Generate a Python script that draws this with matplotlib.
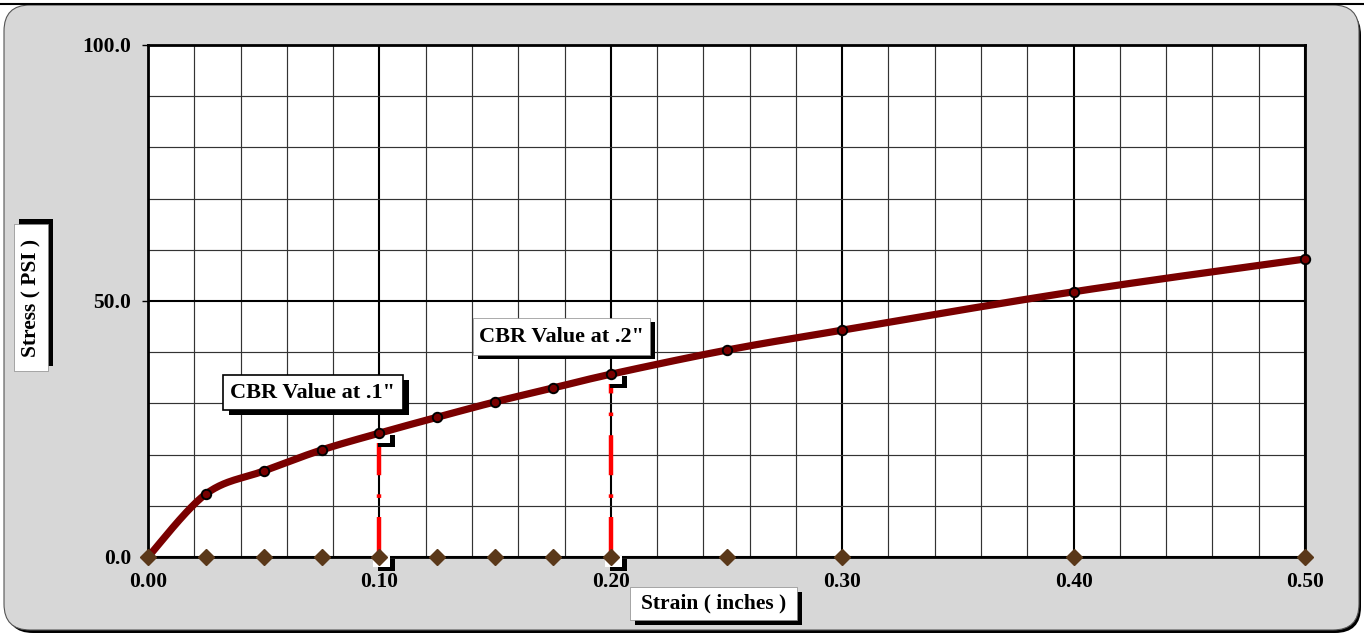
import numpy as np
import matplotlib
matplotlib.use("Agg")
import matplotlib.pyplot as plt
from matplotlib.patches import Rectangle, FancyBboxPatch
from matplotlib.transforms import IdentityTransform
from matplotlib.ticker import MultipleLocator

# ---- data -------------------------------------------------------------
strain = [0.0, 0.025, 0.05, 0.075, 0.10, 0.125, 0.15, 0.175, 0.20, 0.25, 0.30, 0.40, 0.50]
stress = [0.0, 12.3, 16.8, 20.9, 24.2, 27.3, 30.3, 33.0, 35.7, 40.4, 44.3, 51.8, 58.2]

cbr_strain = [0.10, 0.20]
cbr_labels = ['CBR Value at .1"', 'CBR Value at .2"']

x_ticks = [0.0, 0.1, 0.2, 0.3, 0.4, 0.5]
x_ticklabels = ["0.00", "0.10", "0.20", "0.30", "0.40", "0.50"]
y_ticks = [0, 50, 100]
y_ticklabels = ["0.0", "50.0", "100.0"]

x_title = "Strain ( inches )"
y_title = "Stress ( PSI )"

# ---- style ------------------------------------------------------------
W, H = 1364, 634
FONT = "Liberation Serif"
FS_TICK = 15.5
FS_BOX = 16
FS_TITLE = 15.5
CURVE = "#7a0000"
DIAMOND = "#5a3819"
PANEL = "#d7d7d7"

plt.rcParams["font.family"] = [FONT, "DejaVu Serif"]
plt.rcParams["font.weight"] = "bold"

fig = plt.figure(figsize=(W / 100, H / 100), dpi=100)
fig.patch.set_facecolor("white")
ID = IdentityTransform()


def disp(x, y):
    """image-style pixel (origin top-left) -> display coords"""
    return x, H - y


def fig_rect(x0, y0, x1, y1, **kw):
    """rectangle given by top-left / bottom-right pixel corners"""
    bx, by = disp(x0, y1)
    r = Rectangle((bx, by), x1 - x0, y1 - y0, transform=ID, **kw)
    fig.add_artist(r)
    return r


# outer rounded panel with drop shadow
sx, sy = disp(7, 633)
fig.add_artist(FancyBboxPatch((sx, sy), 1354, 624,
                              boxstyle="round,pad=0,rounding_size=26",
                              transform=ID, fc="black", ec="none", zorder=-20))
px_, py_ = disp(4, 630)
fig.add_artist(FancyBboxPatch((px_, py_), 1355, 625,
                              boxstyle="round,pad=0,rounding_size=26",
                              transform=ID, fc=PANEL, ec="#555555", lw=0.8, zorder=-19))
# rule along the top edge
fig.add_artist(plt.Line2D([0, W], [H - 4, H - 4], transform=ID, color="black", lw=1.5, zorder=-18))

# ---- axes -------------------------------------------------------------
L, R, T, B = 148, 1305, 45, 557
ax = fig.add_axes([L / W, 1 - B / H, (R - L) / W, (B - T) / H])
ax.set_facecolor("white")
ax.set_xlim(0, 0.5)
ax.set_ylim(0, 100)

ax.set_xticks(x_ticks, x_ticklabels)
ax.set_yticks(y_ticks, y_ticklabels)
ax.xaxis.set_minor_locator(MultipleLocator(0.02))
ax.yaxis.set_minor_locator(MultipleLocator(10))
ax.grid(which="major", color="black", lw=1.5)
ax.grid(which="minor", color="#333333", lw=0.85)
ax.set_axisbelow(True)
for s in ax.spines.values():
    s.set_linewidth(2.0)
    s.set_color("black")

ax.tick_params(axis="x", which="both", length=0, pad=11, labelsize=FS_TICK)
ax.tick_params(axis="y", which="major", length=4, width=1, direction="out", pad=8, labelsize=FS_TICK)
ax.tick_params(axis="y", which="minor", length=0)
for lab in ax.get_xticklabels() + ax.get_yticklabels():
    lab.set_fontweight("bold")


# Excel-style smoothed line: cubic Bezier through every point
def smooth(xs, ys, n=40):
    pts = np.column_stack([xs, ys]).astype(float)
    out = [pts[0]]
    t = np.linspace(0, 1, n)[1:, None]
    for i in range(len(pts) - 1):
        p0 = pts[i - 1] if i > 0 else pts[i]
        p1, p2 = pts[i], pts[i + 1]
        p3 = pts[i + 2] if i + 2 < len(pts) else pts[i + 1]
        c1 = p1 + (p2 - p0) / 6
        c2 = p2 - (p3 - p1) / 6
        seg = (1 - t) ** 3 * p1 + 3 * (1 - t) ** 2 * t * c1 + 3 * (1 - t) * t ** 2 * c2 + t ** 3 * p2
        out.extend(seg)
    return np.array(out)


cbr_values = [stress[strain.index(s)] for s in cbr_strain]

# red dash-dot drop lines at the CBR strains
for xs, yv in zip(cbr_strain, cbr_values):
    ax.plot([xs, xs], [0, yv], color="red", lw=3.2, dashes=(9, 4.3, 0.8, 4.3),
            solid_capstyle="butt", dash_capstyle="butt", zorder=3)

curve = smooth(strain, stress)
ax.plot(curve[:, 0], curve[:, 1], color=CURVE, lw=5.2, solid_capstyle="round", zorder=4.5, clip_on=False)
ax.plot(strain, stress, ls="none", marker="o", ms=6.8, mfc=CURVE, mec="black", mew=1.4,
        zorder=4.6, clip_on=False)

# strain markers along the base line
ax.plot(strain, [0] * len(strain), ls="none", marker="D", ms=8, mfc=DIAMOND, mec=DIAMOND,
        zorder=6, clip_on=False)

# small empty label stubs with shadow at the CBR points
fig.canvas.draw()
for xs, yv in zip(cbr_strain, cbr_values):
    for yy in (yv, 0):
        dx, dy = ax.transData.transform((xs, yy))
        ax.add_patch(Rectangle((dx - 1, dy - 14), 17, 12, transform=ID, fc="black", ec="none",
                               zorder=4, clip_on=False))
        ax.add_patch(Rectangle((dx - 6, dy - 10), 17, 11, transform=ID, fc="white", ec="none",
                               zorder=4.1, clip_on=False))

# ---- text boxes -------------------------------------------------------
def label_box(x0, y0, x1, y1, text, fs, shadow=(5, 5), border=True, rotation=0):
    fig_rect(x0 + shadow[0], y0 + shadow[1], x1 + shadow[0], y1 + shadow[1],
             fc="black", ec="none", zorder=10)
    fig_rect(x0, y0, x1, y1, fc="white", ec="black" if border else "#888888",
             lw=1.2 if border else 0.5, zorder=11)
    cx, cy = disp((x0 + x1) / 2, (y0 + y1) / 2)
    fig.text(cx / W, cy / H, text, ha="center", va="center", rotation=rotation,
             fontsize=fs, fontweight="bold", family=[FONT, "DejaVu Serif"], zorder=12)


label_box(223, 375, 403, 410, cbr_labels[0], FS_BOX, shadow=(6, 5), border=True)
label_box(473, 318, 650, 355, cbr_labels[1], FS_BOX, shadow=(5, 4), border=False)
label_box(630, 587, 797, 620, x_title, FS_TITLE, shadow=(5, 5), border=False)
label_box(14, 224, 48, 371, y_title, FS_TITLE, shadow=(5, -5), border=False, rotation=90)

fig.savefig("out.png", dpi=100, facecolor="white")
